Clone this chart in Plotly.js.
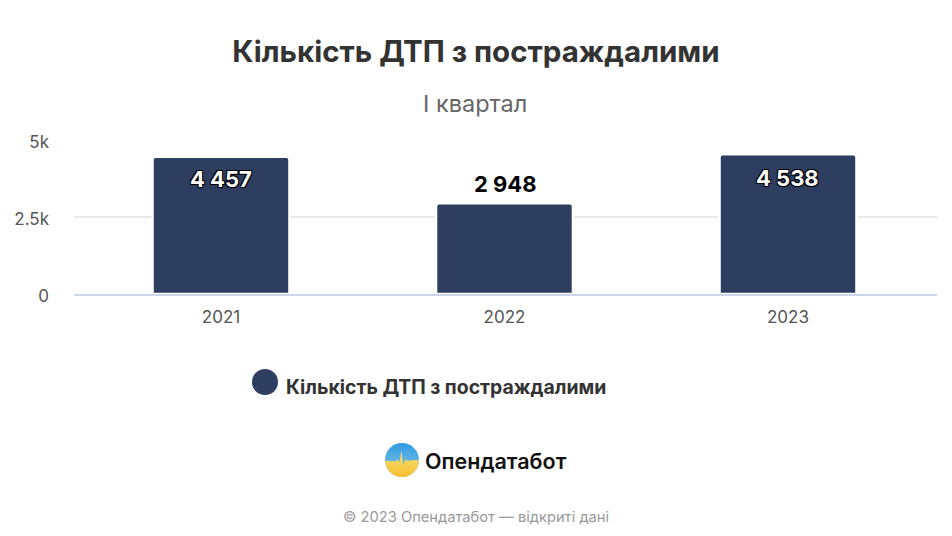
<!DOCTYPE html>
<html><head><meta charset="utf-8">
<script src="https://cdn.plot.ly/plotly-3.0.1.min.js"></script>
<style>html,body{margin:0;padding:0;background:#fff}</style></head>
<body><div id="chart" style="width:952px;height:536px"></div>
<script>
const categories = ["2021","2022","2023"];
const seriesName = "Кількість ДТП з постраждалими";
const values = [4457,2948,4538];
const valueLabels = ["4 457","2 948","4 538"];
const tickValues = [0,2500,5000];
const tickLabels = ["0","2.5k","5k"];
const F = 'Inter, "Noto Sans", sans-serif';
const W = 952, H = 536;
const L = 74, T = 140, PW = 863, PH = 154;
const px = x => (x - L) / PW, py = y => (T + PH - y) / PH;
const logo = "data:image/svg+xml;utf8," + encodeURIComponent(
 '<svg xmlns="http://www.w3.org/2000/svg" viewBox="0 0 100 100"><defs><clipPath id="c"><circle cx="50" cy="50" r="50"/></clipPath><linearGradient id="b" x1="0" y1="0" x2="0" y2="1"><stop offset="0" stop-color="#2f9be0"/><stop offset="1" stop-color="#8cc8e8"/></linearGradient><linearGradient id="y" x1="0" y1="0" x2="0" y2="1"><stop offset="0" stop-color="#f7e27a"/><stop offset="1" stop-color="#f5bf2e"/></linearGradient></defs><g clip-path="url(#c)"><rect width="100" height="100" fill="url(#b)"/><path d="M0 52 L30 54 L38 48 L43 58 L48 22 L54 64 L60 46 L66 52 L100 50 L100 100 L0 100Z" fill="url(#y)"/></g></svg>');
Plotly.newPlot("chart",[{
  type:"bar",x:categories,y:values,name:seriesName,width:0.483,
  marker:{color:"#2d3e60",cornerradius:3,line:{color:"#fff",width:2.5}},hoverinfo:"none"
}],{
  width:W,height:H,margin:{l:L,r:W-L-PW,t:T,b:H-T-PH,pad:0},
  paper_bgcolor:"#fff",plot_bgcolor:"#fff",showlegend:false,
  title:{text:"<b>"+seriesName+"</b>",x:0.5,xref:"container",xanchor:"center",y:1-52/H,yref:"container",yanchor:"middle",font:{family:F,size:29.5,color:"#333"}},
  xaxis:{type:"category",range:[-0.5185,2.5256],tickfont:{family:F,size:17,color:"#555"},ticks:"",showline:true,linecolor:"#ccd6eb",linewidth:1.5,showgrid:false,ticklabelstandoff:7,fixedrange:true},
  yaxis:{range:[0,5000],tickvals:tickValues,ticktext:tickLabels,tickfont:{family:F,size:17,color:"#555"},gridcolor:"#e9e9e9",gridwidth:1.5,zeroline:false,ticks:"",ticklabelstandoff:24,ticklabelshift:2,fixedrange:true},
  images:[{source:logo,xref:"paper",yref:"paper",sizing:"stretch",x:px(385),y:py(443),sizex:34/PW,sizey:34/PH,xanchor:"left",yanchor:"top",layer:"above"}],
  shapes:[{type:"circle",xref:"paper",yref:"paper",x0:px(252),x1:px(278),y0:py(395),y1:py(369),fillcolor:"#2d3e60",line:{width:0}}],
  annotations:[
    {text:"І квартал",xref:"paper",yref:"paper",x:px(475),y:py(104),xanchor:"center",yanchor:"middle",showarrow:false,font:{family:F,size:23.5,color:"#666"}},
    {text:"<b>"+seriesName+"</b>",xref:"paper",yref:"paper",x:px(284),y:py(387),xanchor:"left",yanchor:"middle",showarrow:false,font:{family:F,size:19.4,color:"#333"}},
    {text:"Опендатабот",xref:"paper",yref:"paper",x:px(423),y:py(461),xanchor:"left",yanchor:"middle",showarrow:false,font:{family:F,size:21.5,weight:600,color:"#111"}},
    {text:"© 2023 Опендатабот — відкриті дані",xref:"paper",yref:"paper",x:px(476),y:py(517),xanchor:"center",yanchor:"middle",showarrow:false,font:{family:F,size:14.7,color:"#999"}}
  ].concat(categories.map((c,i)=>({
    x:i,y:values[i],xref:"x",yref:"y",text:"<b>"+valueLabels[i]+"</b>",showarrow:false,yanchor:"middle",
    xshift:i==1?1:0,
    yshift:[-22,19,-24][i],
    font:{family:F,size:22,color:i==1?"#000":"#fff",shadow:i==1?"none":"1px 1px 0 #000,-1px -1px 0 #000,1px -1px 0 #000,-1px 1px 0 #000"}
  })))
}, {staticPlot:true,displayModeBar:false});
</script></body></html>
